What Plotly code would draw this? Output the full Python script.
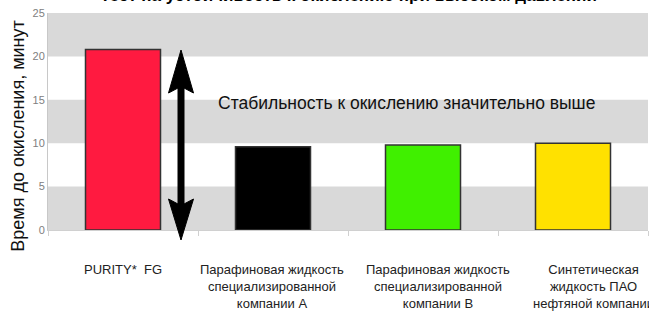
import plotly.graph_objects as go

# ---- data ----
categories = ["PURITY* FG", "Парафиновая A", "Парафиновая B", "Синтетическая ПАО"]
values = [20.8, 9.6, 9.8, 10.0]
cat_labels = [
    "PURITY*  FG",
    "Парафиновая жидкость<br>специализированной<br>компании A",
    "Парафиновая жидкость<br>специализированной<br>компании B",
    "Синтетическая<br>жидкость ПАО<br>нефтяной компании",
]
y_ticks = [0, 5, 10, 15, 20, 25]
y_title = "Время до окисления, минут"
note_text = "Стабильность к окислению значительно выше"
chart_title = "Тест на устойчивость к окислению при высоком давлении"

# ---- styles ----
bar_colors = ["#FF1A40", "#000000", "#40F000", "#FFE100"]
label_shifts = [0, -1, 15, 20]
FONT = "Liberation Sans, Arial, sans-serif"
L, R, T, B = 48, 1, 13, 81
W, H = 649, 311

fig = go.Figure()
fig.add_trace(go.Bar(
    x=categories, y=values,
    marker=dict(color=bar_colors, line=dict(color="#333333", width=1.5)),
    width=0.5, hoverinfo="skip",
))

# alternating background bands
for lo in (0, 10, 20):
    fig.add_shape(type="rect", xref="paper", yref="y", x0=0, x1=1, y0=lo, y1=lo + 5,
                  fillcolor="#D9D9D9", line=dict(width=0), layer="below")

# double-headed arrow (paper coords)
pw, ph = W - L - R, H - T - B
def px(xp): return (xp - L) / pw
def py(yp): return (H - B - yp) / ph
cx, sh, hh = 181, 3, 12.5
top, top_base, top_notch = 50, 93, 88
bot, bot_base, bot_notch = 240, 199, 204
path = (
    f"M{px(cx)},{py(top)} L{px(cx+hh)},{py(top_base)} L{px(cx+sh)},{py(top_notch)} "
    f"L{px(cx+sh)},{py(bot_notch)} L{px(cx+hh)},{py(bot_base)} L{px(cx)},{py(bot)} "
    f"L{px(cx-hh)},{py(bot_base)} L{px(cx-sh)},{py(bot_notch)} L{px(cx-sh)},{py(top_notch)} "
    f"L{px(cx-hh)},{py(top_base)} Z"
)
fig.add_shape(type="path", xref="paper", yref="paper", path=path,
              fillcolor="#000000", line=dict(color="#000000", width=1))

annotations = []
for c, lab, s in zip(categories, cat_labels, label_shifts):
    annotations.append(dict(
        x=c, y=0, xref="x", yref="y", text=lab, showarrow=False,
        xanchor="center", yanchor="top", yshift=-30, xshift=s,
        font=dict(family=FONT, size=13, color="#222222"), align="center",
    ))
annotations.append(dict(
    x=px(406), y=14.6, xref="paper", yref="y", text=note_text, showarrow=False,
    xanchor="center", yanchor="middle",
    font=dict(family=FONT, size=17.5, color="#111111"),
))
annotations.append(dict(
    x=0, y=0.43, xref="paper", yref="paper", text=y_title, showarrow=False,
    textangle=-90, xanchor="center", yanchor="middle", xshift=-30,
    font=dict(family=FONT, size=18, color="#111111"),
))
annotations.append(dict(
    x=0.5, y=1, xref="paper", yref="paper", text="<b>" + chart_title + "</b>",
    showarrow=False, xanchor="center", yanchor="bottom", yshift=6,
    font=dict(family=FONT, size=17, color="#000000"),
))

fig.update_layout(
    width=W, height=H,
    margin=dict(l=L, r=R, t=T, b=B),
    paper_bgcolor="white", plot_bgcolor="white",
    showlegend=False, bargap=0.5,
    annotations=annotations,
    xaxis=dict(type="category", range=[-0.5, 3.5], showticklabels=False,
               tickson="boundaries", ticks="outside", ticklen=5, tickcolor="#D0D0D0",
               showgrid=False, showline=True, linecolor="#D0D0D0", zeroline=False,
               fixedrange=True, automargin=False),
    yaxis=dict(range=[0, 25], tickvals=y_ticks, showgrid=False, zeroline=False,
               showline=True, linecolor="#C8C8C8", ticks="",
               tickfont=dict(family=FONT, size=11, color="#808080"),
               fixedrange=True, automargin=False),
)

fig.write_html("out.html", config={"displayModeBar": False},
               post_script="document.body.style.margin='0';document.body.style.overflow='hidden';")
